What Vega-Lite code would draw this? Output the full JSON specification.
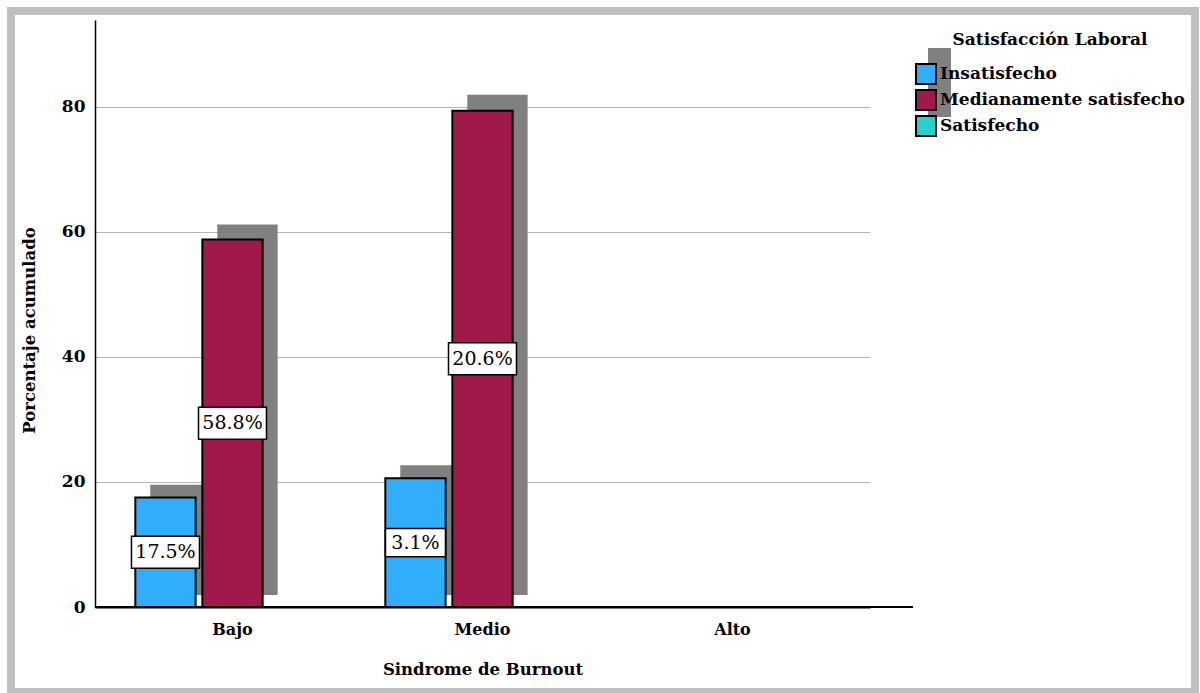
{
  "$schema": "https://vega.github.io/schema/vega-lite/v6.json",
  "width": 1184,
  "height": 681,
  "autosize": {"type": "none"},
  "padding": {"left": 11, "top": 11, "right": 5, "bottom": 1},
  "background": "white",
  "config": {
    "view": {"stroke": "#c0c0c0", "strokeWidth": 8, "fill": "white"},
    "font": "DejaVu Serif"
  },
  "data": {
    "values": [
      {"burnout": "Bajo", "sat": "Insatisfecho", "cum": 17.5, "share": 0.175},
      {"burnout": "Bajo", "sat": "Medianamente satisfecho", "cum": 58.8, "share": 0.588},
      {"burnout": "Medio", "sat": "Insatisfecho", "cum": 20.6, "share": 0.031},
      {"burnout": "Medio", "sat": "Medianamente satisfecho", "cum": 79.4, "share": 0.206}
    ]
  },
  "encoding": {
    "x": {
      "field": "burnout",
      "type": "nominal",
      "title": "Sindrome de Burnout",
      "scale": {"domain": ["Bajo", "Medio", "Alto"], "range": [84, 859], "paddingInner": 0, "paddingOuter": 0.05},
      "axis": {
        "offset": -85,
        "labelAngle": 0,
        "labelFont": "DejaVu Serif",
        "labelFontSize": 16,
        "labelFontWeight": "bold",
        "labelColor": "#000",
        "labelPadding": 14,
        "ticks": false,
        "domain": true,
        "domainColor": "#000",
        "domainWidth": 2,
        "titleFont": "DejaVu Serif",
        "titleFontSize": 16.5,
        "titleFontWeight": "bold",
        "titleColor": "#000",
        "titlePadding": 24
      }
    }
  },
  "layer": [
    {
      "encoding": {
        "xOffset": {
          "field": "sat",
          "type": "nominal",
          "scale": {"type": "band", "domain": ["Insatisfecho", "Medianamente satisfecho", "Satisfecho"], "paddingInner": 0.1, "paddingOuter": 0.415, "align": 0.769}
        },
        "y": {
          "field": "cum",
          "type": "quantitative",
          "scale": {"domain": [-1.905, 91.27], "range": [596, 9], "nice": false, "zero": false},
          "axis": null
        },
        "stroke": {
          "field": "burnout",
          "type": "nominal",
          "scale": {"domain": ["Bajo", "Medio", "Alto"], "range": ["#808080", "#808080", "#808080"]},
          "legend": {
            "orient": "none",
            "legendX": 917,
            "legendY": 37,
            "title": null,
            "symbolType": "square",
            "symbolSize": 529,
            "symbolFillColor": "#808080",
            "symbolStrokeWidth": 0,
            "symbolOpacity": 1,
            "labelExpr": "''",
            "labelFontSize": 1,
            "rowPadding": 0,
            "zindex": 0
          }
        }
      },
      "mark": {"type": "bar", "color": "#808080", "strokeWidth": 0}
    },
    {
      "encoding": {
        "xOffset": {
          "field": "sat",
          "type": "nominal",
          "scale": {"type": "band", "domain": ["Insatisfecho", "Medianamente satisfecho", "Satisfecho"], "paddingInner": 0.1, "paddingOuter": 0.415}
        },
        "y": {
          "field": "cum",
          "type": "quantitative",
          "title": "Porcentaje acumulado",
          "scale": {"domain": [0, 93.9], "range": [596, 9], "nice": false},
          "axis": {
            "offset": -84,
            "values": [0, 20, 40, 60, 80],
            "labelFont": "DejaVu Serif",
            "labelFontSize": 17,
            "labelFontWeight": "bold",
            "labelColor": "#000",
            "labelPadding": 10,
            "ticks": false,
            "domainColor": "#000",
            "domainWidth": 1.5,
            "grid": true,
            "gridColor": "#b4b4b4",
            "gridWidth": 1,
            "titleFont": "DejaVu Serif",
            "titleFontSize": 16.5,
            "titleFontWeight": "bold",
            "titleColor": "#000",
            "titlePadding": 24,
            "titleY": 319
          }
        }
      },
      "layer": [
        {
          "mark": {"type": "bar", "stroke": "#000", "strokeWidth": 2},
          "encoding": {
            "color": {
              "field": "sat",
              "type": "nominal",
              "title": "Satisfacción Laboral",
              "scale": {
                "domain": ["Insatisfecho", "Medianamente satisfecho", "Satisfecho"],
                "range": ["#30aefc", "#a1194b", "#22d2cc"]
              },
              "legend": {
                "orient": "none",
                "legendX": 904,
                "legendY": 21,
                "zindex": 1,
                "symbolType": "square",
                "symbolSize": 400,
                "symbolStrokeColor": "#000",
                "symbolStrokeWidth": 2,
                "symbolOpacity": 1,
                "labelFont": "DejaVu Serif",
                "labelFontSize": 17,
                "labelFontWeight": "bold",
                "labelColor": "#000",
                "labelOffset": 3,
                "rowPadding": -2,
                "titleFont": "DejaVu Serif",
                "titleFontSize": 17,
                "titleFontWeight": "bold",
                "titleColor": "#000",
                "titleAnchor": "middle",
                "titlePadding": 14,
                "titleLimit": 400,
                "labelLimit": 400
              }
            }
          }
        },
        {
          "mark": {"type": "rule", "color": "#000", "strokeWidth": 2},
          "encoding": {
            "x": {"datum": "Bajo", "bandPosition": -0.05},
            "x2": {"datum": "Alto", "bandPosition": 1.22},
            "y": {"datum": 0},
            "xOffset": null
          }
        }
      ]
    },
    {
      "encoding": {
        "xOffset": {
          "field": "sat",
          "type": "nominal",
          "scale": {"type": "band", "domain": ["Insatisfecho", "Medianamente satisfecho", "Satisfecho"], "paddingInner": 0.1, "paddingOuter": 0.415}
        },
        "y": {
          "field": "cum",
          "type": "quantitative",
          "scale": {"domain": [0, 187.8], "range": [596, 9], "nice": false},
          "axis": null
        }
      },
      "layer": [
        {
          "mark": {
            "type": "point",
            "shape": "M-1,-0.47L1,-0.47L1,0.47L-1,0.47Z",
            "filled": true,
            "fill": "#fff",
            "stroke": "#000",
            "strokeWidth": 1.5,
            "opacity": 1
          },
          "encoding": {
            "size": {"condition": {"test": "datum.share < 0.1", "value": 3600}, "value": 4624}
          }
        },
        {
          "mark": {"type": "text", "font": "DejaVu Serif", "fontSize": 19, "color": "#000", "baseline": "middle", "align": "center"},
          "encoding": {
            "text": {"field": "share", "type": "quantitative", "format": ".1%"}
          }
        }
      ]
    }
  ],
  "resolve": {"scale": {"y": "independent", "xOffset": "independent"}}
}
